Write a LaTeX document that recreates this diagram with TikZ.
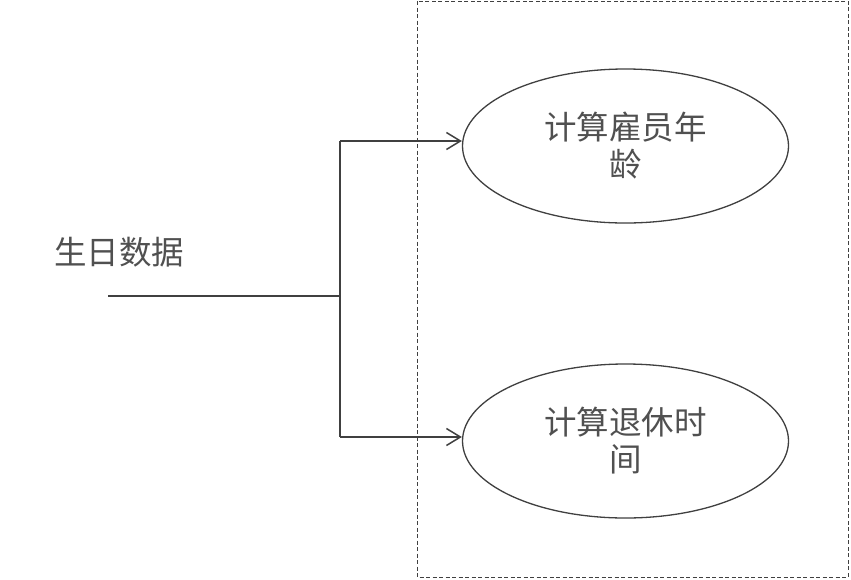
\documentclass[tikz,border=0pt]{standalone}
\usepackage{fontspec}
\newfontfamily\cjk{Noto Sans CJK SC}
\usetikzlibrary{shapes.geometric,arrows.meta}
\definecolor{linec}{HTML}{404040}
\definecolor{textc}{HTML}{505050}
\tikzset{
  proc/.style={ellipse,draw=linec,line width=1.3pt,minimum width=326pt,minimum height=154pt,inner sep=0pt,align=center,text=textc,font=\cjk\fontsize{32.5}{37}\selectfont},
  lbl/.style={text=textc,font=\cjk\fontsize{32.5}{36}\selectfont,inner sep=0pt,anchor=west},
  conn/.style={draw=linec,line width=1.5pt},
  arr/.style={conn,-{Straight Barb[length=14pt,width=17pt,line width=1.5pt]}},
  bound/.style={draw=linec,line width=0.8pt,dash pattern=on 4pt off 2.5pt}
}
\begin{document}
\begin{tikzpicture}[x=1pt,y=1pt]
\useasboundingbox (0,0) rectangle (851,-579);
\fill[white] (0,0) rectangle (851,-579);
\draw[bound] (417,-1) rectangle (848,-577);
\node[proc] (e1) at (625.5,-146) {计算雇员年\\龄};
\node[proc] (e2) at (625.5,-441) {计算退休时\\间};
\node[lbl] (src) at (54,-252) {生日数据};
\coordinate (s) at (108,-296);
\coordinate (j) at (340,-296);
\coordinate (j1) at (340,-141);
\coordinate (j2) at (340,-437);
\draw[conn] (s) -- (j);
\draw[conn] (j1) -- (j2);
\draw[arr] (j1) -- (j1 -| e1.west);
\draw[arr] (j2) -- (j2 -| e2.west);
\end{tikzpicture}
\end{document}
